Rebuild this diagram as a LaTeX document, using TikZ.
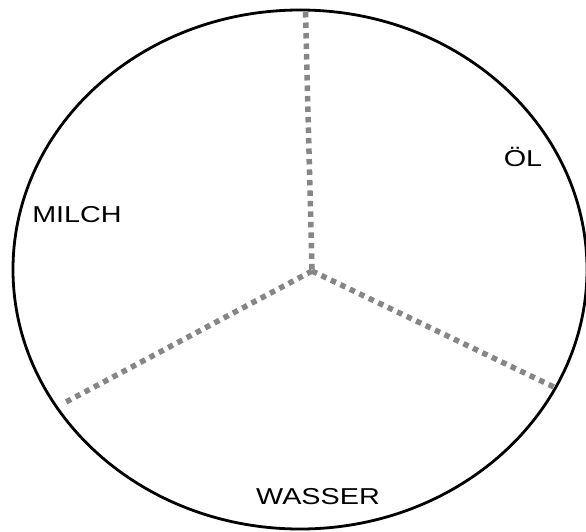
\documentclass[tikz,border=0pt]{standalone}
\usepackage{fontspec}
\newfontfamily\handfont[FakeStretch=1.25]{Liberation Sans}
\usetikzlibrary{positioning}

\begin{document}
\begin{tikzpicture}[
  x=1pt, y=-1pt,
  rim/.style={draw=black, line width=2.8pt},
  divider/.style={draw=gray!95, line width=5.5pt, dash pattern=on 5.5pt off 5pt},
  lbl/.style={font=\handfont\fontsize{23}{25}\selectfont, inner sep=0pt}
]
  \useasboundingbox (0,0) rectangle (586,531);
  \draw[rim] (300,269.5) ellipse [x radius=287, y radius=259.5];
  \coordinate (mid) at (312,271);
  \coordinate (up)  at (305.5,12);
  \coordinate (sw)  at (66,402);
  \coordinate (se)  at (556,388);
  \draw[divider] (up) -- (mid);
  \draw[divider] (mid) -- (sw);
  \draw[divider] (mid) -- (se);
  \node[lbl] (oel)    at (523,157) {ÖL};
  \node[lbl] (milch)  at (77,215)  {MILCH};
  \node[lbl] (wasser) at (318,497) {WASSER};
\end{tikzpicture}
\end{document}
